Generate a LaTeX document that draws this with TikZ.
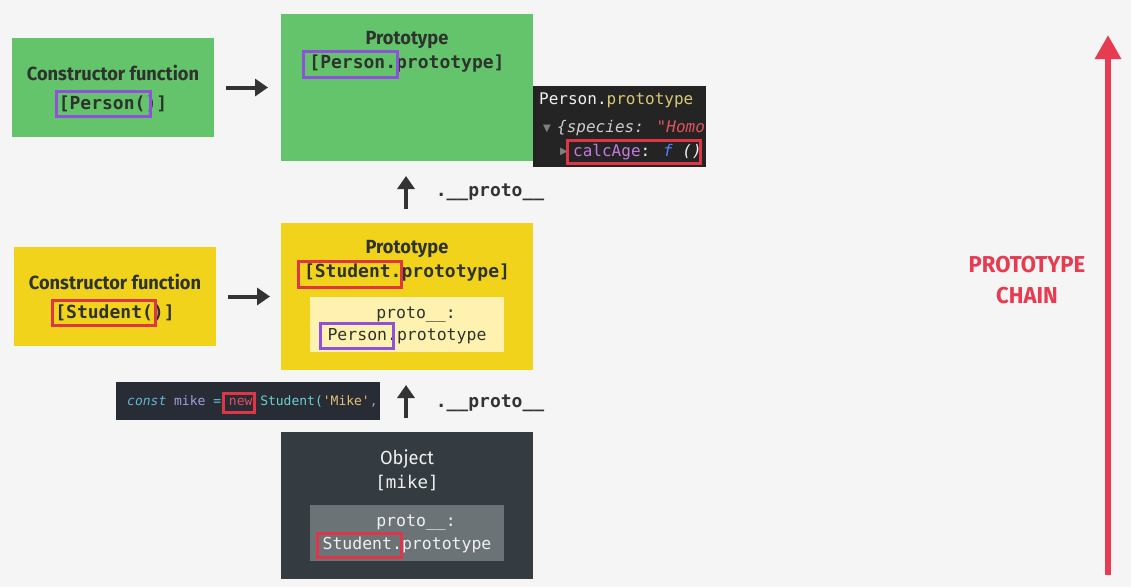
\documentclass[tikz,border=0pt]{standalone}
\usepackage{fontspec}
\usetikzlibrary{arrows.meta}
\newfontfamily\chead{Fira Sans}[FakeStretch=0.96]
\newfontfamily\cmono{DejaVu Sans Mono}
\newfontfamily\csym{DejaVu Sans}
\definecolor{bgc}{HTML}{F5F5F5}
\definecolor{greenc}{HTML}{63C46B}
\definecolor{yellowc}{HTML}{F2D31B}
\definecolor{creamc}{HTML}{FFF2B0}
\definecolor{darkc}{HTML}{343C41}
\definecolor{grayc}{HTML}{6B7377}
\definecolor{purplec}{HTML}{8E50DD}
\definecolor{redc}{HTML}{E03447}
\definecolor{chainc}{HTML}{E63B50}
\definecolor{txtc}{HTML}{2E332E}
\definecolor{arrowc}{HTML}{333333}
\definecolor{consolec}{HTML}{242424}
\definecolor{snipc}{HTML}{282C34}
\definecolor{lightc}{HTML}{F0F0F0}
\begin{document}
\begin{tikzpicture}[x=1pt,y=-1pt,
  box/.style={rectangle, inner sep=0pt, outer sep=0pt},
  headtxt/.style={font=\chead\bfseries\fontsize{19}{22}\selectfont, inner sep=0pt},
  codetxt/.style={font=\cmono\bfseries\fontsize{18}{21}\selectfont, inner sep=0pt},
  innertxt/.style={font=\cmono\fontsize{16.5}{20}\selectfont, inner sep=0pt},
  contxt/.style={font=\cmono\fontsize{16}{19}\selectfont, inner sep=0pt, anchor=west},
  sniptxt/.style={font=\cmono\fontsize{13}{16}\selectfont, inner sep=0pt, anchor=west},
  hl/.style={draw=#1, line width=3.5pt},
  darr/.style={draw=arrowc, line width=4pt, -{Triangle[length=13pt,width=17pt]}},
  protolbl/.style={font=\cmono\bfseries\fontsize{18}{21}\selectfont, text=arrowc, inner sep=0pt},
  chaintxt/.style={font=\chead\bfseries\fontsize{23}{27}\selectfont, text=chainc, inner sep=0pt}
]
\fill[bgc] (0,0) rectangle (1131,587);
\useasboundingbox (0,0) rectangle (1131,587);

% boxes
\node[box, fill=greenc, minimum width=202pt, minimum height=99pt] (cf1) at (113,87.5) {};
\node[box, fill=greenc, minimum width=252pt, minimum height=147pt] (pr1) at (407,87.5) {};
\node[box, fill=consolec, minimum width=173pt, minimum height=81pt] (con) at (619.5,126.5) {};
\node[box, fill=yellowc, minimum width=202pt, minimum height=99pt] (cf2) at (115,296.5) {};
\node[box, fill=yellowc, minimum width=252pt, minimum height=147pt] (pr2) at (407,296.5) {};
\node[box, fill=creamc, minimum width=194pt, minimum height=55pt] (cream) at (407,324.5) {};
\node[box, fill=snipc, minimum width=264pt, minimum height=38pt] (snip) at (248,401) {};
\node[box, fill=darkc, minimum width=252pt, minimum height=147pt] (obj) at (407,505.5) {};
\node[box, fill=grayc, minimum width=194pt, minimum height=56pt] (grayin) at (407,533) {};

% texts: constructor 1
\node[headtxt, text=txtc] (cf1t) at (113,73) {Constructor function};
\node[codetxt, text=txtc] (cf1c) at (113,104) {[Person()]};
% prototype 1
\node[headtxt, text=txtc] (pr1t) at (407,40) {Prototype};
\node[codetxt, text=txtc] (pr1c) at (407,64) {[Person.prototype]};
% console
\begin{scope}
\clip (con.south west) rectangle (con.north east);
\node[contxt, text=lightc] (con1) at (539,100) {Person.\textcolor[HTML]{D8C875}{prototype}};
\node[font=\csym\fontsize{10}{12}\selectfont, text=gray, inner sep=0pt] (tri1) at (547,129) {▼};
\node[contxt, text=lightc!85!black] (con2) at (557,128) {\itshape \{species: \textcolor[HTML]{E0535E}{"Homo"}};
\node[font=\csym\fontsize{10}{12}\selectfont, text=gray, inner sep=0pt] (tri2) at (564,152) {▶};
\node[contxt, text=lightc] (con3) at (573,152) {\textcolor[HTML]{C678DD}{calcAge}: \textcolor[HTML]{5C7CFA}{\itshape f} \itshape ()};
\end{scope}
% constructor 2
\node[headtxt, text=txtc] (cf2t) at (115,282) {Constructor function};
\node[codetxt, text=txtc] (cf2c) at (115,313) {[Student()]};
% prototype 2
\node[headtxt, text=txtc] (pr2t) at (407,249) {Prototype};
\node[codetxt, text=txtc] (pr2c) at (407,273) {[Student.prototype]};
\node[innertxt, text=txtc] (pr2p) at (416,315) {proto\_\_:};
\node[innertxt, text=txtc] (pr2q) at (407,336) {Person.prototype};
% snippet
\node[sniptxt] (snipt) at (127,401) {\textcolor[HTML]{62B7D6}{\itshape const} \textcolor[HTML]{A89BE0}{mike} \textcolor[HTML]{5DC8D0}{=} \textcolor[HTML]{E0506A}{new} \textcolor[HTML]{6BD0D0}{Student(}\textcolor[HTML]{E5C07B}{'Mike'}\textcolor[HTML]{9AA0A6}{,}};
% object
\node[headtxt, text=lightc, font=\chead\fontsize{19}{22}\selectfont] (objt) at (407,459) {Object};
\node[innertxt, text=lightc, font=\cmono\fontsize{17.5}{21}\selectfont] (objc) at (407,483) {[mike]};
\node[innertxt, text=lightc] (objp) at (416,523) {proto\_\_:};
\node[innertxt, text=lightc] (objq) at (407,545) {Student.prototype};

% highlight frames
\draw[hl=purplec] (56.5,91.5) rectangle (150.5,116.5);
\draw[hl=purplec] (303.5,51.5) rectangle (397.5,77.5);
\draw[hl=redc] (567.5,140.5) rectangle (700.5,163.5);
\draw[hl=redc] (52.5,300.5) rectangle (155.5,325.5);
\draw[hl=redc] (298.5,261.5) rectangle (401.5,287.5);
\draw[hl=purplec] (320.5,323.5) rectangle (393.5,348.5);
\draw[hl=redc] (223.5,393.5) rectangle (254.5,412.5);
\draw[hl=redc] (317.5,533.5) rectangle (401.5,557.5);

% arrows
\draw[darr, shorten <=12pt, shorten >=13pt] (cf1) -- (pr1);
\draw[darr, shorten <=12pt, shorten >=11pt] (cf2) -- (pr2);
\draw[darr, shorten <=14pt, shorten >=15pt] ([xshift=-1pt]pr2.north) -- ([xshift=-1pt]pr1.south);
\draw[darr, shorten <=14pt, shorten >=15pt] ([xshift=-1pt]obj.north) -- ([xshift=-1pt]pr2.south);
\node[protolbl] (lbl1) at (490,192) {.\_\_proto\_\_};
\node[protolbl] (lbl2) at (490,403) {.\_\_proto\_\_};

% prototype chain
\coordinate (chainbot) at (1108,575);
\coordinate (chaintop) at (1108,35);
\draw[chainc, line width=6pt, -{Triangle[length=24pt,width=25pt]}] (chainbot) -- (chaintop);
\node[chaintxt] (ch1) at (1027,265) {PROTOTYPE};
\node[chaintxt] (ch2) at (1027,296) {CHAIN};
\end{tikzpicture}
\end{document}
